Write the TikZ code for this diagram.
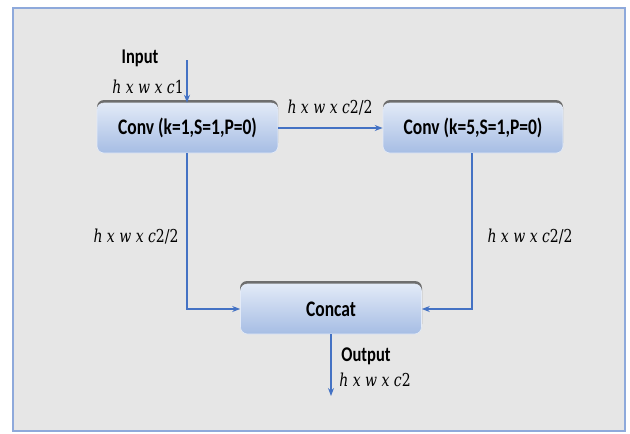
\documentclass[tikz,border=0pt]{standalone}
\usepackage{graphicx}
\usepackage{fontspec}
\setmainfont{Carlito}
\newfontfamily\mfont{DejaVu Serif}
\usetikzlibrary{arrows.meta}
\definecolor{bgray}{HTML}{E6E6E6}
\definecolor{frameblue}{HTML}{8EA9DB}
\definecolor{arrowblue}{HTML}{4472C4}
\definecolor{boxtop}{HTML}{E2EAF7}
\definecolor{boxbot}{HTML}{A6BDE4}
\definecolor{shad}{HTML}{6E6E6E}
\newcommand{\st}[1]{\scalebox{1}[1.27]{#1}}
\tikzset{
  x=1pt,y=-1pt,
  blk/.style={minimum width=181pt,minimum height=50pt,rounded corners=7pt,
    top color=boxtop,bottom color=boxbot,font=\bfseries\fontsize{17.5}{19}\selectfont,inner sep=0pt,
    draw=white!70!boxbot,line width=0.6pt},
  conn/.style={draw=arrowblue,line width=1.2pt,-{Stealth[length=8pt,width=6pt]}},
  lbl/.style={inner sep=0pt,font=\mfont\itshape\fontsize{14}{16}\selectfont},
  ttl/.style={inner sep=0pt,font=\bfseries\fontsize{16.5}{18}\selectfont},
}
\newcommand{\mx}[1]{\st{h x w x c{\upshape #1}}}
\begin{document}
\begin{tikzpicture}
\useasboundingbox (0,0) rectangle (630,434);
\draw[fill=bgray,draw=frameblue,line width=2pt] (13,8) rectangle (625,431);
% shadows
\fill[shad,rounded corners=7pt] (97,100) rectangle (278,150);
\fill[shad,rounded corners=7pt] (383,100) rectangle (563,150);
\fill[shad,rounded corners=7pt] (240,281) rectangle (422,331);
\node[blk] (c1) at (187.5,128) {\st{Conv (k=1,S=1,P=0)}};
\node[blk,minimum width=180pt] (c2) at (473,128) {\st{Conv (k=5,S=1,P=0)}};
\node[blk] (cc) at (331,309) {\st{Concat}};
\coordinate (in) at (187,60);
\coordinate (out) at (331,396);
\coordinate (l) at (187,309);
\coordinate (r) at (472,309);
\draw[conn] (in) -- (c1.north -| in);
\draw[conn] (c1.east) -- (c2.west);
\draw[conn] (c1.south -| l) -- (l) -- (cc.west);
\draw[conn] (c2.south -| r) -- (r) -- (cc.east);
\draw[conn] (cc.south) -- (out);
\node[ttl] (tin) at (140,58) {\st{Input}};
\node[lbl] (sin) at (148,87) {\mx{1}};
\node[lbl] (s12) at (330,108) {\mx{2/2}};
\node[lbl] (sl) at (136,237) {\mx{2/2}};
\node[lbl] (sr) at (530,237) {\mx{2/2}};
\node[ttl] (tout) at (366,356) {\st{Output}};
\node[lbl] (sout) at (375,380) {\mx{2}};
\end{tikzpicture}
\end{document}
